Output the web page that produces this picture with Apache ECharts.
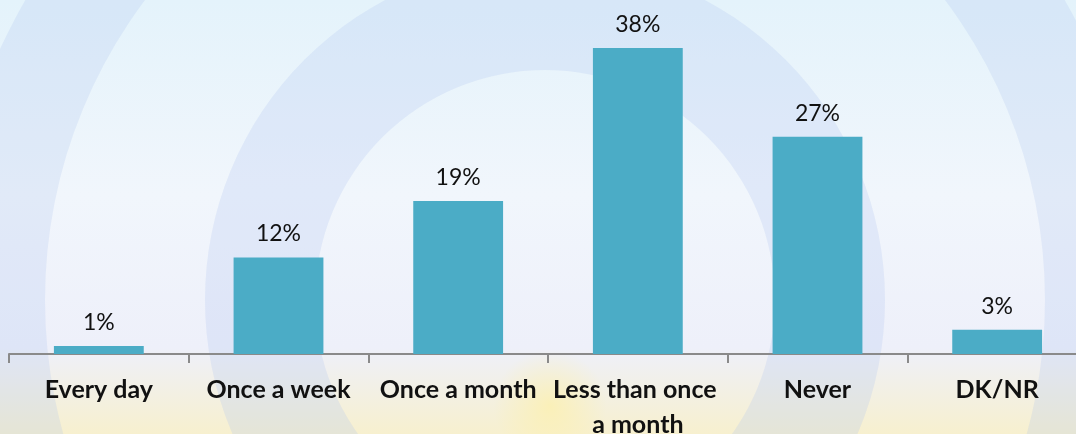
<!DOCTYPE html>
<html>
<head>
<meta charset="utf-8">
<script src="https://cdn.jsdelivr.net/npm/echarts@6/dist/echarts.min.js"></script>
<style>
  html, body { margin: 0; padding: 0; }
  #main { width: 1076px; height: 434px; }
</style>
</head>
<body>
<div id="main"></div>
<script>
var chartDom = document.getElementById('main');
var myChart = echarts.init(chartDom);
var option;

// answers, share of respondents (%)
const categories = ['Every day', 'Once a week', 'Once a month', 'Less than once a month', 'Never', 'DK/NR'];
const shares = [1, 12, 19, 38, 27, 3];

option = {
  backgroundColor: {
    type: 'linear', x: 0, y: 0, x2: 0, y2: 1,
    colorStops: [
      { offset: 0, color: '#e4f3fb' },
      { offset: 0.45, color: '#f1f6fc' },
      { offset: 0.8, color: '#eef0fa' },
      { offset: 1, color: '#f7f0cf' }
    ]
  },
  graphic: [
    {
      type: 'ring', z: -1, silent: true,
      shape: { cx: 545, cy: 300, r: 600, r0: 500 },
      style: { fill: 'rgba(170,190,235,0.22)' }
    },
    {
      type: 'ring', z: -1, silent: true,
      shape: { cx: 545, cy: 300, r: 340, r0: 230 },
      style: { fill: 'rgba(175,195,240,0.25)' }
    },
    {
      type: 'rect', z: -1, silent: true,
      shape: { x: 100, y: 340, width: 900, height: 94 },
      style: {
        fill: {
          type: 'radial', x: 0.5, y: 0.7, r: 0.6,
          colorStops: [
            { offset: 0, color: 'rgba(255,240,160,0.6)' },
            { offset: 1, color: 'rgba(255,240,160,0)' }
          ]
        }
      }
    }
  ],
  grid: {
    left: 9,
    right: -11,
    top: 32,
    bottom: 80,
    outerBoundsMode: 'none',
    containLabel: false
  },
  xAxis: {
    type: 'category',
    data: categories,
    axisLine: { lineStyle: { color: '#8a8a8a', width: 2 } },
    axisTick: { show: true, length: 9, lineStyle: { color: '#8a8a8a', width: 2 } },
    axisLabel: {
      interval: 0,
      margin: 18,
      width: 172,
      overflow: 'break',
      fontFamily: 'Lato',
      fontWeight: 'bold',
      fontSize: 25,
      lineHeight: 35,
      color: '#111'
    }
  },
  yAxis: {
    type: 'value',
    min: 0,
    max: 40,
    show: false,
    splitLine: { show: false }
  },
  series: [
    {
      type: 'bar',
      data: shares,
      barWidth: '50%',
      itemStyle: { color: '#4bacc6' },
      label: {
        show: true,
        position: 'top',
        distance: 12,
        formatter: '{c}%',
        fontFamily: 'Lato',
        fontSize: 23,
        color: '#111'
      }
    }
  ]
};

option && myChart.setOption(option);
</script>
</body>
</html>
